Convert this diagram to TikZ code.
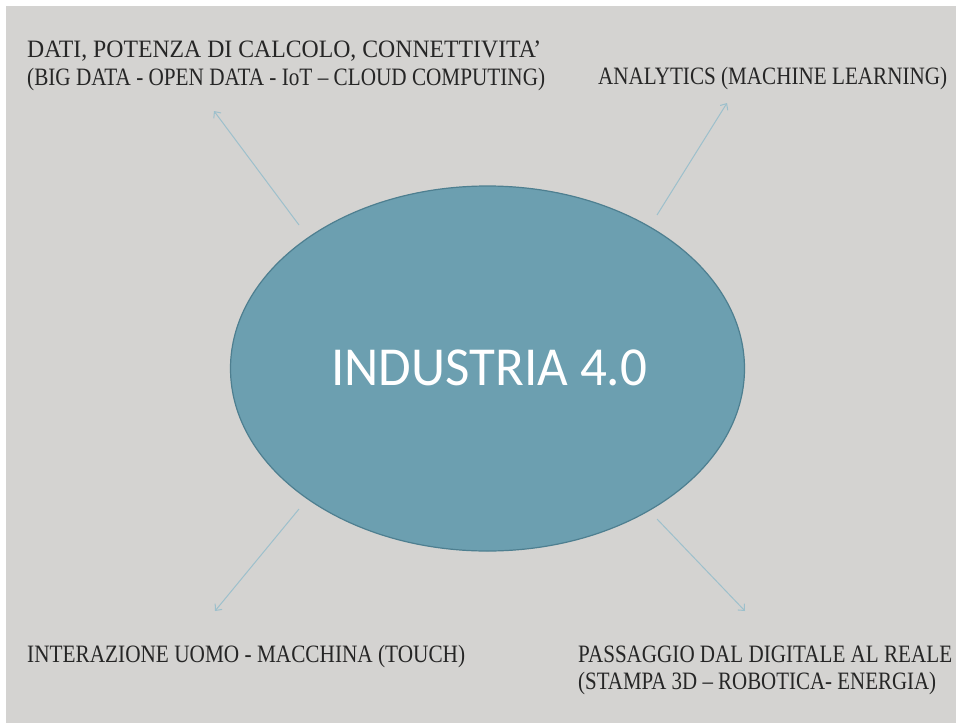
\documentclass[tikz,border=0pt]{standalone}
\usepackage{fontspec}
\setmainfont{Liberation Serif}
\newfontfamily\calib{Carlito}
\usetikzlibrary{arrows.meta,shapes.geometric}
\definecolor{bg}{HTML}{D4D3D1}
\definecolor{ellfill}{HTML}{6C9FB0}
\definecolor{elldraw}{HTML}{4E7F90}
\definecolor{arr}{HTML}{9DC0CC}
\definecolor{txt}{HTML}{262626}
\newcommand{\fitw}[2]{\resizebox{#1pt}{\height}{#2}}
\tikzset{
  lbl/.style={anchor=base west, inner sep=0pt, text=txt, font=\fontsize{25}{28}\selectfont},
  conn/.style={draw=arr, line width=1pt, -{Straight Barb[length=5pt,width=9pt]}},
}
\begin{document}
\begin{tikzpicture}[x=1pt,y=-1pt]
\useasboundingbox (0,0) rectangle (956,723);
\fill[white] (0,0) rectangle (956,723);
\fill[bg] (6,6) rectangle (956,723);
\node[ellipse, draw=elldraw, line width=1.2pt, fill=ellfill, minimum width=514pt, minimum height=365pt, inner sep=0pt] (c) at (487.5,368.5) {};
\node[anchor=base west, inner sep=0pt, text=white, font=\calib\fontsize{55}{60}\selectfont] (title) at (331,385) {\fitw{316}{INDUSTRIA 4.0}};
\node[lbl] (t1) at (27,57) {\fitw{514}{DATI, POTENZA DI CALCOLO, CONNETTIVITA’}};
\node[lbl] (t2) at (27,85) {\fitw{518}{(BIG DATA - OPEN DATA - IoT – CLOUD COMPUTING)}};
\node[lbl] (t3) at (598,84) {\fitw{349}{ANALYTICS (MACHINE LEARNING)}};
\node[lbl] (t4) at (27,662) {\fitw{438}{INTERAZIONE UOMO - MACCHINA (TOUCH)}};
\node[lbl] (t5) at (578,662) {\fitw{374}{PASSAGGIO DAL DIGITALE AL REALE}};
\node[lbl] (t6) at (578,689) {\fitw{358}{(STAMPA 3D – ROBOTICA- ENERGIA)}};
\coordinate (a1s) at (299,225); \coordinate (a1e) at (214,111);
\coordinate (a2s) at (657,215); \coordinate (a2e) at (727,103);
\coordinate (a3s) at (299,509); \coordinate (a3e) at (215,611);
\coordinate (a4s) at (657,519); \coordinate (a4e) at (745,611);
\draw[conn] (a1s) -- (a1e);
\draw[conn] (a2s) -- (a2e);
\draw[conn] (a3s) -- (a3e);
\draw[conn] (a4s) -- (a4e);
\end{tikzpicture}
\end{document}
